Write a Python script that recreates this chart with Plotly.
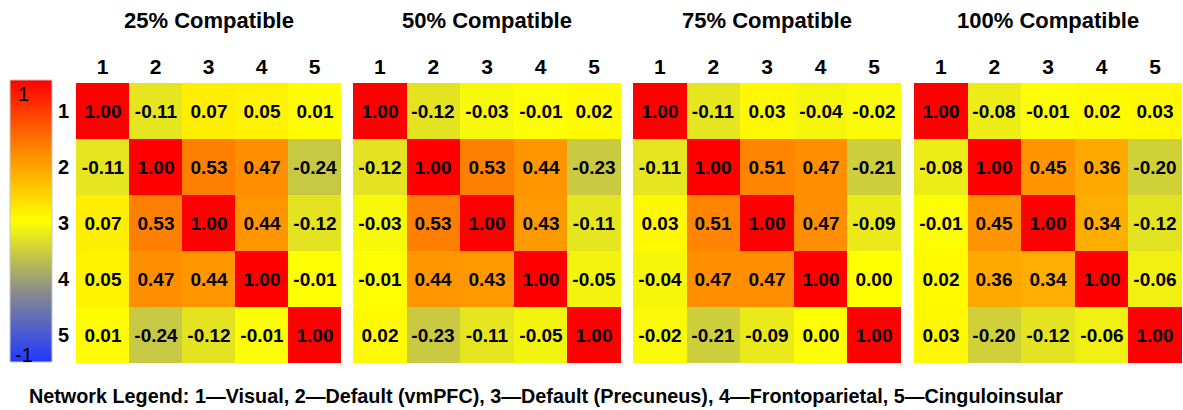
import plotly.graph_objects as go

W, H = 1183, 410

networks = ["1", "2", "3", "4", "5"]
titles = ["25% Compatible", "50% Compatible", "75% Compatible", "100% Compatible"]

corr_25 = [
    [1.00, -0.11, 0.07, 0.05, 0.01],
    [-0.11, 1.00, 0.53, 0.47, -0.24],
    [0.07, 0.53, 1.00, 0.44, -0.12],
    [0.05, 0.47, 0.44, 1.00, -0.01],
    [0.01, -0.24, -0.12, -0.01, 1.00],
]
corr_50 = [
    [1.00, -0.12, -0.03, -0.01, 0.02],
    [-0.12, 1.00, 0.53, 0.44, -0.23],
    [-0.03, 0.53, 1.00, 0.43, -0.11],
    [-0.01, 0.44, 0.43, 1.00, -0.05],
    [0.02, -0.23, -0.11, -0.05, 1.00],
]
corr_75 = [
    [1.00, -0.11, 0.03, -0.04, -0.02],
    [-0.11, 1.00, 0.51, 0.47, -0.21],
    [0.03, 0.51, 1.00, 0.47, -0.09],
    [-0.04, 0.47, 0.47, 1.00, 0.00],
    [-0.02, -0.21, -0.09, 0.00, 1.00],
]
corr_100 = [
    [1.00, -0.08, -0.01, 0.02, 0.03],
    [-0.08, 1.00, 0.45, 0.36, -0.20],
    [-0.01, 0.45, 1.00, 0.34, -0.12],
    [0.02, 0.36, 0.34, 1.00, -0.06],
    [0.03, -0.20, -0.12, -0.06, 1.00],
]
matrices = [corr_25, corr_50, corr_75, corr_100]

legend_text = ("Network Legend: 1\u2014Visual, 2\u2014Default (vmPFC), "
               "3\u2014Default (Precuneus), 4\u2014Frontoparietal, 5\u2014Cinguloinsular")

FONT = "Liberation Sans, Arial, sans-serif"

# pixel extents of each matrix panel (left, right)
panels_px = [(76, 341), (353, 621), (633, 901), (914, 1182)]
top_px, bottom_px = 83, 363

scale = [
    [0.0, "#2038ff"],
    [0.25, "#8a8c8e"],
    [0.5, "#ffff00"],
    [0.75, "#ff8800"],
    [1.0, "#ff0000"],
]

fig = go.Figure()
layout = dict(
    width=W, height=H,
    margin=dict(l=0, r=0, t=0, b=0),
    paper_bgcolor="white", plot_bgcolor="white",
    showlegend=False,
    coloraxis=dict(
        colorscale=scale, cmin=-1, cmax=1,
        colorbar=dict(
            x=10 / W, xanchor="left", y=1 - 80 / H, yanchor="top",
            lenmode="pixels", len=282, thickness=42,
            thicknessmode="pixels", xpad=0, ypad=0,
            outlinewidth=1, outlinecolor="#c8c8c8",
            showticklabels=False, ticks="",
        ),
    ),
)

annotations = []
for i, (z, title, (l, r)) in enumerate(zip(matrices, titles, panels_px)):
    n = "" if i == 0 else str(i + 1)
    fig.add_trace(go.Heatmap(
        z=z, x=networks, y=networks,
        xaxis="x" + n, yaxis="y" + n,
        coloraxis="coloraxis",
        texttemplate="%{z:.2f}",
        textfont=dict(family=FONT, size=19, color="black", weight="bold"),
        hoverinfo="skip",
    ))
    layout["xaxis" + n] = dict(
        domain=[l / W, r / W], anchor="y" + n, side="top",
        showgrid=False, zeroline=False, ticks="", showline=False,
        tickfont=dict(family=FONT, size=21, color="black", weight="bold"),
        ticklabelstandoff=4,
        type="category",
    )
    layout["yaxis" + n] = dict(
        domain=[1 - bottom_px / H, 1 - top_px / H], anchor="x" + n,
        autorange="reversed", showgrid=False, zeroline=False, ticks="",
        showline=False, showticklabels=(i == 0), type="category",
        tickfont=dict(family=FONT, size=20, color="black", weight="bold"),
        ticklabelstandoff=6,
    )
    annotations.append(dict(
        text=title, x=(l + r) / 2 / W, y=1 - 20 / H, xref="paper", yref="paper",
        xanchor="center", yanchor="middle", showarrow=False,
        font=dict(family=FONT, size=22, color="black", weight="bold"),
    ))

annotations += [
    dict(text="1", x=23 / W, y=1 - 94 / H, xref="paper", yref="paper",
         xanchor="center", yanchor="middle", showarrow=False,
         font=dict(family=FONT, size=20, color="black")),
    dict(text="-1", x=24 / W, y=1 - 355 / H, xref="paper", yref="paper",
         xanchor="center", yanchor="middle", showarrow=False,
         font=dict(family=FONT, size=20, color="black")),
    dict(text=legend_text, x=27 / W, y=1 - 396 / H, xref="paper", yref="paper",
         xanchor="left", yanchor="middle", showarrow=False,
         font=dict(family=FONT, size=19.8, color="black", weight="bold")),
]
layout["annotations"] = annotations

fig.update_layout(**layout)
fig.write_html("out.html")
